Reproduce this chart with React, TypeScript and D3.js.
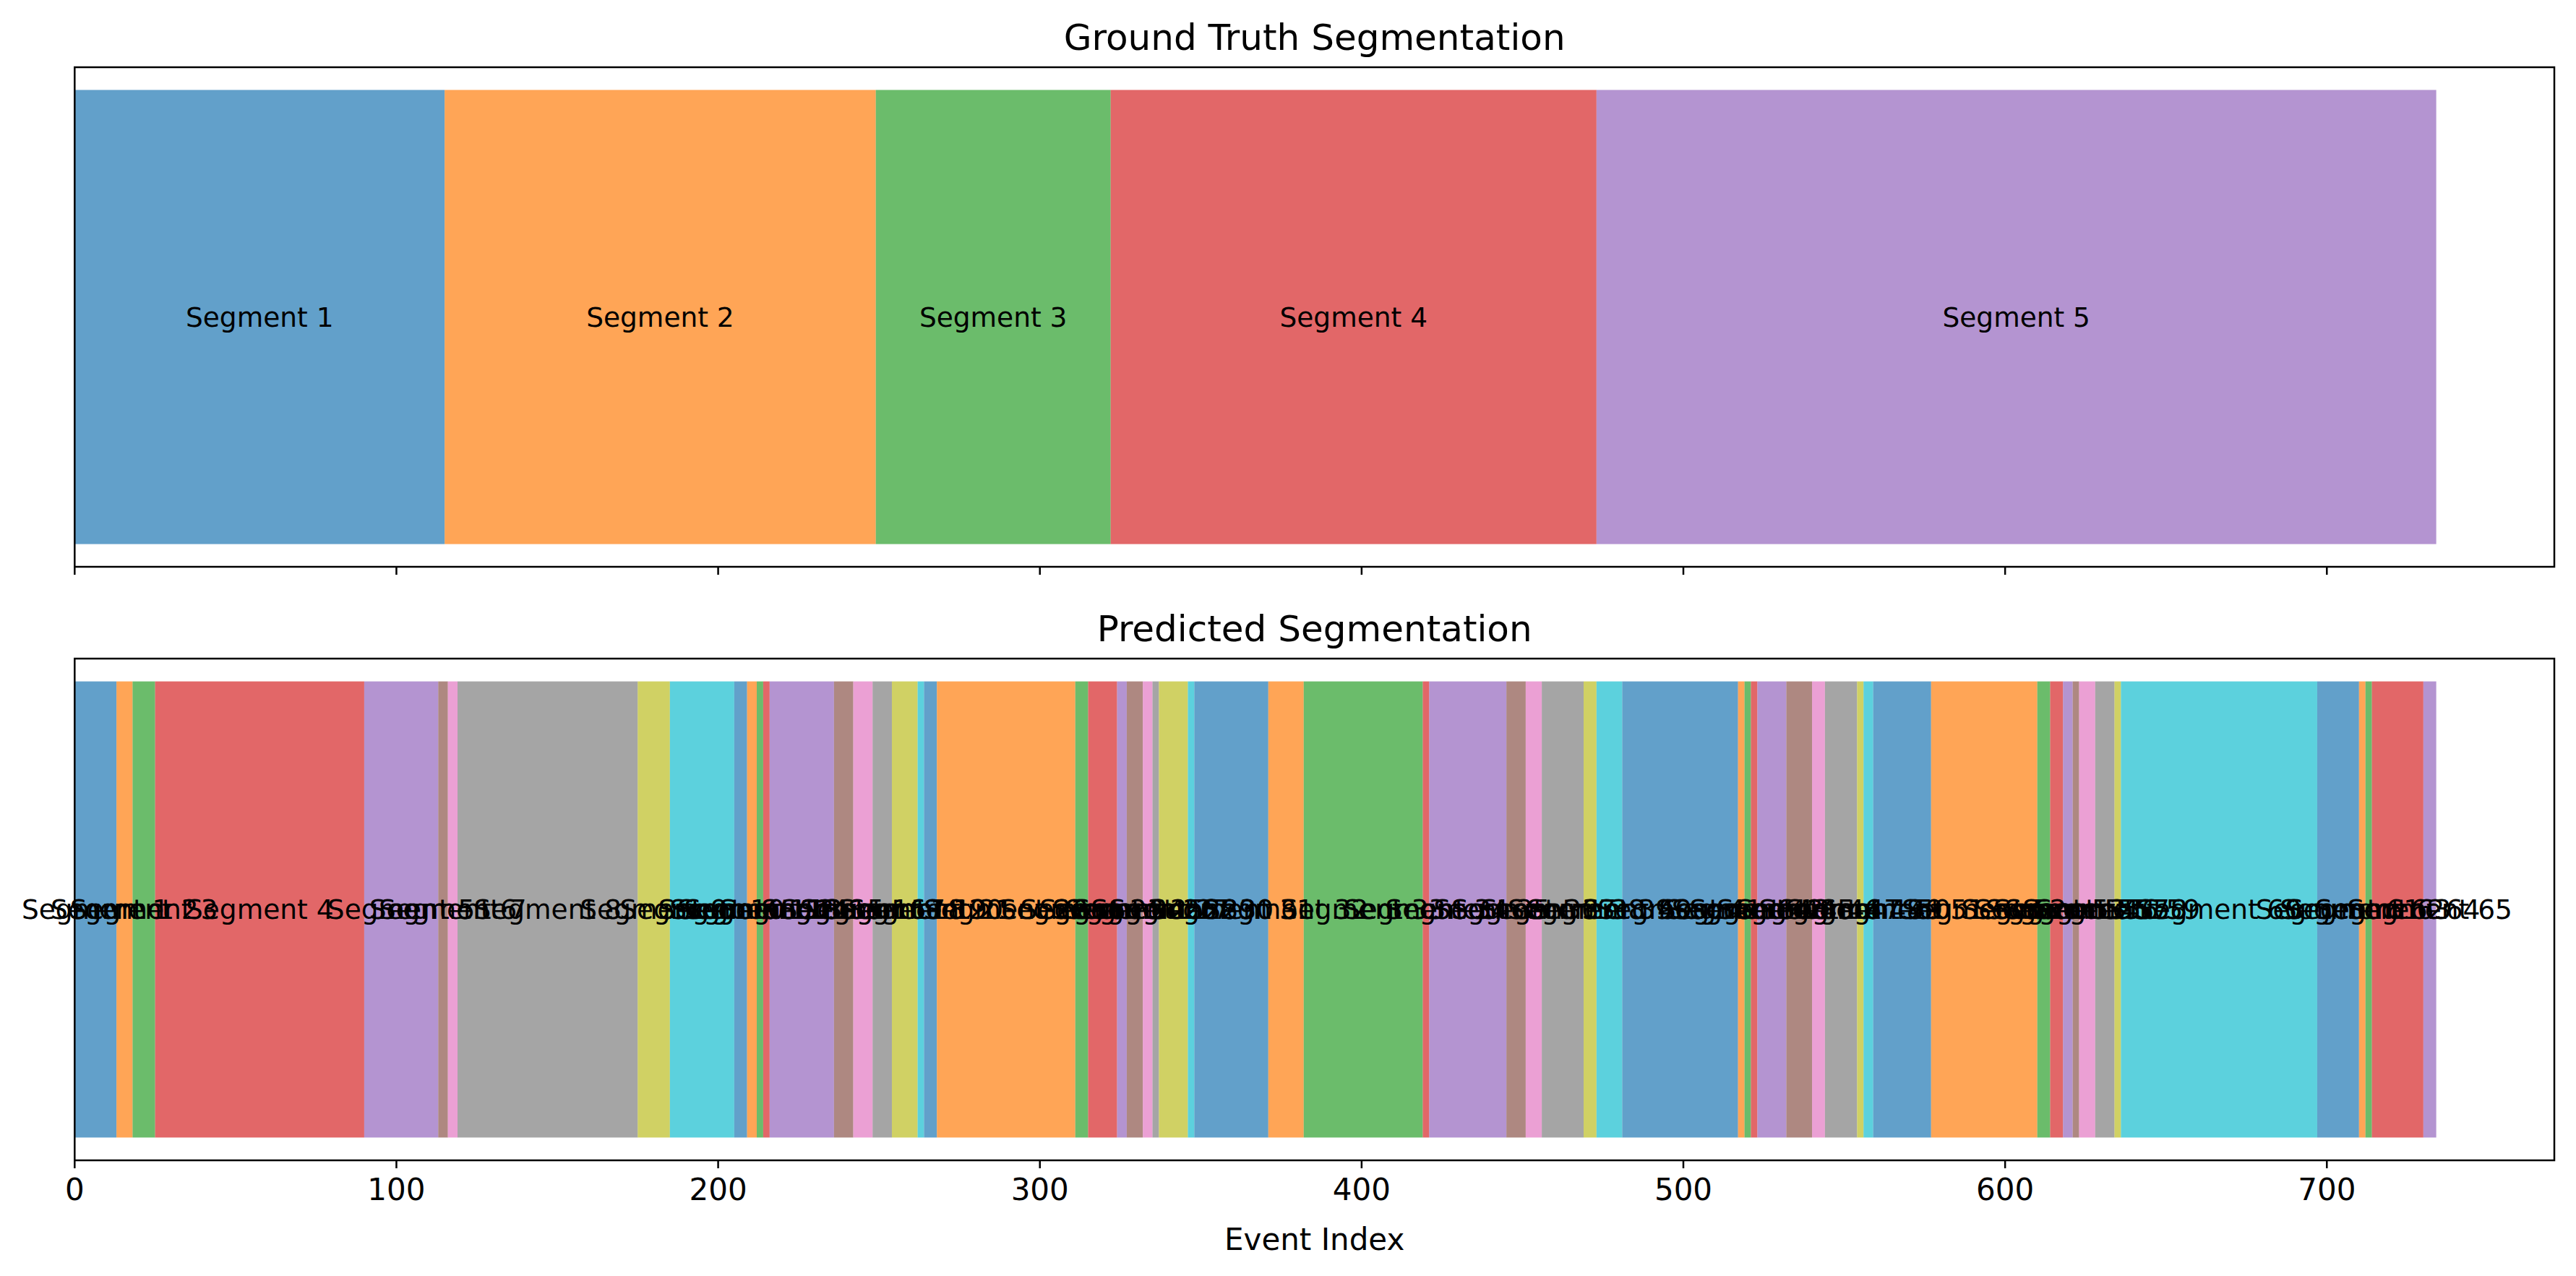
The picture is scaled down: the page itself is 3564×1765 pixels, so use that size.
import React from "react";
import * as d3 from "d3";

const gtBounds = [0, 115, 249, 322, 473, 734];
const predBounds = [0,13,18,25,90,113,116,119,175,185,205,209,212,214,216,236,242,248,254,262,264,268,311,315,324,327,332,335,337,346,348,371,382,419,421,445,451,456,469,473,481,517,519,521,523,532,540,544,554,556,559,577,610,614,618,621,623,628,634,636,697,710,712,714,730,734];
const xTicks = [0, 100, 200, 300, 400, 500, 600, 700];
const tab10 = ["#1f77b4","#ff7f0e","#2ca02c","#d62728","#9467bd","#8c564b","#e377c2","#7f7f7f","#bcbd22","#17becf"];

const W = 3564, H = 1765;
const L = 103.3, R = 3534;
const x = d3.scaleLinear().domain([0, 770.7]).range([L, R]);
const FONT = "DejaVu Sans, sans-serif";

function Panel({ bounds, top, bottom, title, showLabels }: { bounds: number[]; top: number; bottom: number; title: string; showLabels: boolean }) {
  const y = d3.scaleLinear().domain([0.44, -0.44]).range([top, bottom]);
  const segs = d3.pairs(bounds);
  return (
    <g>
      {segs.map(([a, b], i) => (
        <rect key={i} x={x(a)} width={x(b) - x(a)} y={y(0.4)} height={y(-0.4) - y(0.4)} fill={tab10[i % 10]} fillOpacity={0.7} />
      ))}
      {segs.map(([a, b], i) => (
        <text key={"t" + i} x={x((a + b) / 2)} y={y(0)} textAnchor="middle" dominantBaseline="central" fontSize={37.5} fontFamily={FONT} fill="#000">
          {"Segment " + (i + 1)}
        </text>
      ))}
      <rect x={L} y={top} width={R - L} height={bottom - top} fill="none" stroke="#000" strokeWidth={2.5} />
      {xTicks.map((t) => (
        <g key={"k" + t}>
          <line x1={x(t)} x2={x(t)} y1={bottom} y2={bottom + 11} stroke="#000" strokeWidth={2.5} />
          {showLabels && (
            <text x={x(t)} y={bottom + 24} textAnchor="middle" dominantBaseline="hanging" fontSize={42} fontFamily={FONT}>{t}</text>
          )}
        </g>
      ))}
      <text x={(L + R) / 2} y={top - 24} textAnchor="middle" fontSize={50} fontFamily={FONT}>{title}</text>
    </g>
  );
}

export default function App() {
  return (
    <svg width={W} height={H} style={{ position: "absolute", left: 0, top: 0, background: "#fff" }}>
      <rect width={W} height={H} fill="#fff" />
      <Panel bounds={gtBounds} top={93} bottom={784} title="Ground Truth Segmentation" showLabels={false} />
      <Panel bounds={predBounds} top={911} bottom={1605} title="Predicted Segmentation" showLabels={true} />
      <text x={(L + R) / 2} y={1714} textAnchor="middle" dominantBaseline="central" fontSize={42} fontFamily={FONT}>Event Index</text>
    </svg>
  );
}
